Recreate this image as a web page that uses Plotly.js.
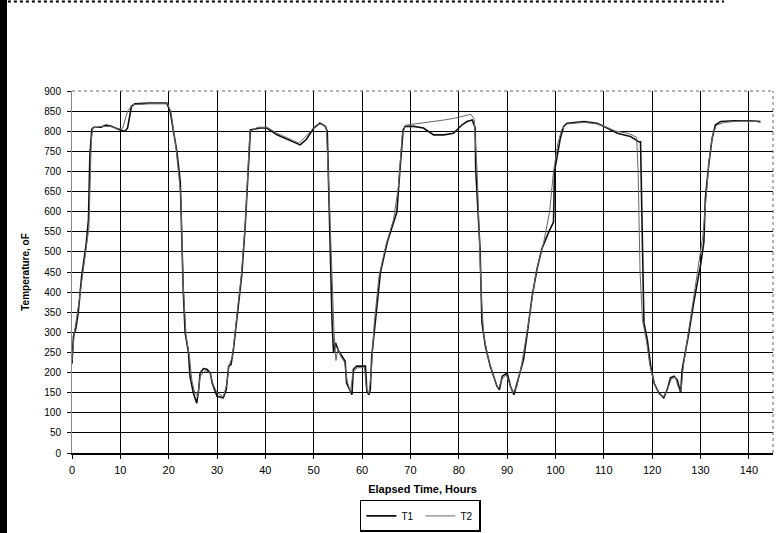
<!DOCTYPE html>
<html>
<head>
<meta charset="utf-8">
<script src="https://cdn.plot.ly/plotly-3.0.1.min.js"></script>
<style>html,body{margin:0;padding:0;background:#fff;}#chart{width:783px;height:533px;position:relative;}#strip{position:absolute;left:0;top:0;width:7px;height:533px;background:#000;z-index:5;}</style>
</head>
<body>
<div id="strip"></div>
<div id="chart"></div>
<script>
// Elapsed time (hours) and temperature (°F)
const hoursT1 = [0,0.3,0.8,1.3,2.0,2.9,3.4,3.7,4.1,4.5,6,7,8,9,10,11,11.5,12.3,13,16,19.6,20.3,21,21.7,22.4,22.7,23,23.4,24.1,24.4,25.1,25.8,26.2,26.5,27.2,27.9,28.6,29.0,30,31.3,31.9,32.4,32.9,33.4,34.1,35.1,35.8,36.5,36.9,38.9,40.3,42.4,45.8,47.2,48.5,50,51.3,52.4,52.8,53.1,53.4,53.8,54.1,54.5,55.1,55.8,56.5,56.8,57.9,58.2,58.9,60.7,61,61.4,61.7,62,62.7,63.8,65.2,67.2,67.8,68.2,68.5,68.9,70.7,72.7,74.8,76.9,78.9,80.7,81.7,82.8,83.4,83.5,84.1,84.4,84.8,85.5,86.5,87.9,88.4,89,90,90.7,91.4,92.1,93.4,94.1,95.2,96.2,97.2,98.6,99.6,99.8,101,101.7,102.4,105.9,108.6,110.7,112.8,115.5,117.2,117.6,117.9,118.3,119,119.7,120.4,121.4,122.4,123.1,123.8,124.5,125.2,125.9,126.2,126.9,127.6,128.6,130,130.7,131,131.7,132.4,133.1,134.2,136.9,140.4,142.4];
const tempT1 = [222,290,310,350,440,516,580,740,805,810,810,815,813,807,803,800,808,862,868,870,870,850,800,749,674,500,408,299,249,191,149,124,157,199,210,208,199,174,141,137,157,216,220,258,341,441,558,699,803,808,808,791,774,766,780,808,820,812,800,657,491,324,249,274,255,241,228,174,145,208,216,216,153,145,157,241,324,449,524,599,699,753,803,812,812,808,791,791,795,816,824,828,808,707,591,508,324,266,216,166,157,191,199,166,145,174,232,291,391,458,508,549,574,699,782,812,820,824,820,808,795,787,774,774,574,324,282,216,174,149,137,157,187,191,182,149,207,249,299,374,466,524,632,716,782,816,824,826,826,824];

const hoursT2 = [0,0.5,1.5,2.5,3.5,4.0,4.3,6,8,9.5,10.5,11.5,12.5,16,19.8,20.5,21.5,22.5,23,23.6,24.3,24.8,25.4,26,26.5,27.5,28.5,29.2,30,31.3,32,32.5,33.2,34,35,35.8,36.4,36.8,38.5,40.3,42.4,45.8,47,49,50.5,51.5,52.6,53.2,53.7,54.2,54.6,55.0,55.6,56.4,56.9,57.6,58.1,59,60.5,60.9,61.4,61.9,62.5,63.5,65,66.5,67.5,68.3,69,71,73,75,77,79,81,82.5,83.2,83.8,84.3,84.7,85.2,86.2,87.5,88.2,89,89.8,90.6,91.2,92,93,94.5,96,97.5,98.8,99.6,100.5,101.3,102.4,105.9,108.6,110.5,112.5,115,116.8,117.1,117.5,118,118.8,119.5,120.5,121.5,122.4,123.2,124,124.8,125.5,126,126.5,127.5,128.5,129.5,130.5,131.2,131.8,132.5,133.3,135,138,141,142.4];
const tempT2 = [230,300,380,470,560,780,808,812,812,805,808,850,866,868,868,845,760,640,420,290,240,180,150,140,190,205,200,170,150,140,170,218,240,330,440,560,700,800,810,810,795,778,770,795,815,818,810,640,450,300,230,260,240,225,180,150,200,212,212,160,148,200,320,440,520,580,660,790,815,818,822,825,828,832,838,842,830,700,520,380,290,230,180,160,185,195,170,150,165,220,330,450,520,600,700,770,805,818,822,818,810,800,795,785,700,450,330,280,220,170,145,140,160,185,188,160,155,220,300,380,460,540,640,730,790,815,822,825,825,822];

const seriesNames = ["T1", "T2"];
const xTitle = "Elapsed Time, Hours";
const yTitle = "Temperature, oF";

const traces = [
  {x: hoursT1, y: tempT1, name: seriesNames[0], mode: "lines", line: {color: "#111111", width: 1.6}},
  {x: hoursT2, y: tempT2, name: seriesNames[1], mode: "lines", line: {color: "#666666", width: 1}}
];

const font = {family: "Liberation Sans, Arial, sans-serif", color: "#000", size: 11};

const layout = {
  width: 783, height: 533,
  margin: {l: 72, r: 10, t: 91, b: 80, autoexpand: false},
  paper_bgcolor: "#fff", plot_bgcolor: "#fff",
  font: font,
  showlegend: true,
  legend: {orientation: "h", x: 0.497, y: -0.218, xanchor: "center", yanchor: "bottom",
           bordercolor: "#000", borderwidth: 1.5, bgcolor: "#fff", itemwidth: 30, entrywidth: 14,
           font: {family: font.family, size: 10, color: "#000"}, tracegroupgap: 0},
  xaxis: {range: [0, 145], tick0: 0, dtick: 10, showgrid: true, gridcolor: "#000", gridwidth: 1,
          zeroline: false, showline: true, linecolor: "#000", linewidth: 1.5,
          ticks: "outside", ticklen: 4, tickcolor: "#000", tickfont: {size: 11}, ticklabelstandoff: 2,
          title: {text: xTitle, font: {size: 11, family: font.family, weight: "bold"}, standoff: 10}},
  yaxis: {range: [0, 900], tick0: 0, dtick: 50, showgrid: true, gridcolor: "#000", gridwidth: 1,
          zeroline: false, showline: true, linecolor: "#888", linewidth: 1,
          ticks: "outside", ticklen: 4, tickcolor: "#000", tickfont: {size: 10}, ticklabelstandoff: 4,
          title: {text: yTitle, font: {size: 10, family: font.family, weight: "bold"}, standoff: 12}},
  shapes: [
    {type: "line", xref: "paper", yref: "paper", x0: 0, x1: 1, y0: 1, y1: 1, line: {color: "#666", width: 1, dash: "dot"}},
    {type: "line", xref: "paper", yref: "paper", x0: 1, x1: 1, y0: 0, y1: 1, line: {color: "#666", width: 1, dash: "dot"}},
    {type: "line", xref: "paper", yref: "paper", x0: -0.1, x1: 0.93, y0: 1.247, y1: 1.247, line: {color: "#000", width: 2, dash: "dot"}}
  ]
};

Plotly.newPlot("chart", traces, layout, {displayModeBar: false, staticPlot: true});
</script>
</body>
</html>
